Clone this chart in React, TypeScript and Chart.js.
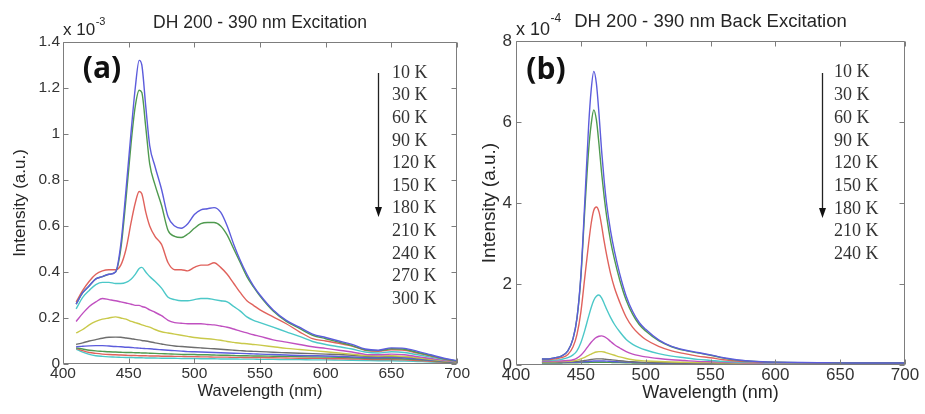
import React, { useEffect, useRef } from "react";
import { Chart, registerables } from "chart.js";

Chart.register(...registerables);

// ---------- Panel (a): DH 200 - 390 nm Excitation (x 10^-3) ----------
const wavelengthsA = [410, 415, 420, 425, 430, 435, 440, 444, 448, 452, 455, 458, 460, 463, 466, 470, 475, 480, 485, 490, 495, 500, 505, 510, 515, 520, 525, 530, 535, 540, 545, 550, 560, 570, 580, 590, 600, 610, 620, 630, 640, 650, 660, 670, 680, 690, 700];
const a10K = [0.26, 0.31, 0.34, 0.37, 0.38, 0.39, 0.40, 0.52, 0.76, 1.02, 1.20, 1.32, 1.30, 1.12, 0.95, 0.86, 0.76, 0.64, 0.60, 0.59, 0.61, 0.65, 0.67, 0.675, 0.68, 0.66, 0.60, 0.52, 0.45, 0.39, 0.34, 0.30, 0.235, 0.19, 0.16, 0.13, 0.115, 0.10, 0.085, 0.065, 0.06, 0.07, 0.068, 0.055, 0.04, 0.025, 0.015];
const a30K = [0.26, 0.31, 0.34, 0.37, 0.38, 0.39, 0.40, 0.50, 0.72, 0.97, 1.12, 1.19, 1.18, 1.03, 0.87, 0.78, 0.69, 0.58, 0.555, 0.55, 0.565, 0.59, 0.61, 0.615, 0.615, 0.60, 0.56, 0.50, 0.44, 0.38, 0.335, 0.295, 0.23, 0.185, 0.155, 0.125, 0.11, 0.095, 0.08, 0.062, 0.058, 0.066, 0.064, 0.05, 0.037, 0.023, 0.013];
const a60K = [0.27, 0.32, 0.36, 0.39, 0.405, 0.41, 0.41, 0.43, 0.50, 0.62, 0.70, 0.75, 0.74, 0.66, 0.60, 0.555, 0.52, 0.44, 0.41, 0.41, 0.405, 0.42, 0.43, 0.43, 0.44, 0.42, 0.39, 0.35, 0.31, 0.275, 0.255, 0.235, 0.205, 0.175, 0.14, 0.11, 0.10, 0.09, 0.078, 0.06, 0.055, 0.062, 0.06, 0.047, 0.035, 0.021, 0.012];
const a90K = [0.24, 0.29, 0.32, 0.345, 0.355, 0.355, 0.35, 0.35, 0.355, 0.37, 0.39, 0.415, 0.42, 0.40, 0.38, 0.36, 0.33, 0.29, 0.28, 0.275, 0.275, 0.28, 0.285, 0.285, 0.28, 0.275, 0.27, 0.25, 0.23, 0.205, 0.19, 0.18, 0.16, 0.14, 0.12, 0.098, 0.085, 0.075, 0.065, 0.052, 0.048, 0.053, 0.05, 0.04, 0.03, 0.019, 0.011];
const a120K = [0.185, 0.22, 0.25, 0.27, 0.285, 0.28, 0.275, 0.27, 0.265, 0.26, 0.255, 0.255, 0.25, 0.245, 0.235, 0.225, 0.21, 0.19, 0.18, 0.177, 0.175, 0.175, 0.175, 0.172, 0.17, 0.165, 0.16, 0.152, 0.143, 0.135, 0.127, 0.12, 0.105, 0.095, 0.085, 0.075, 0.068, 0.06, 0.052, 0.042, 0.04, 0.043, 0.04, 0.032, 0.024, 0.016, 0.01];
const a150K = [0.135, 0.15, 0.17, 0.185, 0.195, 0.2, 0.205, 0.2, 0.195, 0.185, 0.18, 0.175, 0.17, 0.165, 0.16, 0.15, 0.14, 0.135, 0.13, 0.125, 0.12, 0.115, 0.112, 0.11, 0.107, 0.103, 0.098, 0.094, 0.09, 0.088, 0.085, 0.082, 0.075, 0.068, 0.063, 0.058, 0.053, 0.048, 0.043, 0.037, 0.035, 0.036, 0.033, 0.027, 0.02, 0.014, 0.009];
const a180K = [0.085, 0.092, 0.1, 0.106, 0.112, 0.116, 0.117, 0.116, 0.113, 0.11, 0.107, 0.105, 0.102, 0.1, 0.097, 0.092, 0.087, 0.082, 0.078, 0.076, 0.074, 0.072, 0.07, 0.068, 0.066, 0.064, 0.062, 0.06, 0.058, 0.056, 0.055, 0.054, 0.051, 0.049, 0.047, 0.045, 0.043, 0.041, 0.038, 0.034, 0.032, 0.033, 0.031, 0.026, 0.02, 0.014, 0.008];
const a210K = [0.075, 0.077, 0.079, 0.08, 0.08, 0.078, 0.076, 0.075, 0.073, 0.072, 0.07, 0.069, 0.068, 0.067, 0.066, 0.064, 0.062, 0.06, 0.058, 0.056, 0.054, 0.053, 0.052, 0.051, 0.05, 0.049, 0.048, 0.047, 0.046, 0.045, 0.044, 0.043, 0.041, 0.039, 0.037, 0.036, 0.035, 0.033, 0.031, 0.028, 0.027, 0.028, 0.026, 0.022, 0.017, 0.012, 0.007];
const a240K = [0.07, 0.065, 0.06, 0.057, 0.055, 0.053, 0.052, 0.051, 0.05, 0.05, 0.049, 0.049, 0.048, 0.048, 0.047, 0.046, 0.045, 0.044, 0.043, 0.042, 0.041, 0.041, 0.04, 0.04, 0.039, 0.038, 0.038, 0.037, 0.036, 0.036, 0.035, 0.035, 0.034, 0.033, 0.032, 0.031, 0.03, 0.029, 0.027, 0.025, 0.024, 0.024, 0.022, 0.019, 0.015, 0.01, 0.006];
const a270K = [0.068, 0.058, 0.05, 0.046, 0.043, 0.041, 0.04, 0.039, 0.038, 0.037, 0.037, 0.036, 0.036, 0.036, 0.035, 0.035, 0.034, 0.034, 0.033, 0.033, 0.032, 0.032, 0.031, 0.031, 0.03, 0.03, 0.03, 0.029, 0.029, 0.028, 0.028, 0.028, 0.027, 0.026, 0.025, 0.025, 0.024, 0.023, 0.022, 0.02, 0.019, 0.019, 0.018, 0.015, 0.012, 0.008, 0.005];
const a300K = [0.065, 0.052, 0.042, 0.036, 0.033, 0.031, 0.03, 0.029, 0.028, 0.028, 0.027, 0.027, 0.027, 0.026, 0.026, 0.026, 0.025, 0.025, 0.025, 0.024, 0.024, 0.024, 0.023, 0.023, 0.023, 0.022, 0.022, 0.022, 0.021, 0.021, 0.021, 0.02, 0.02, 0.019, 0.019, 0.018, 0.018, 0.017, 0.016, 0.015, 0.014, 0.014, 0.013, 0.011, 0.009, 0.006, 0.004];
const tempLabelsA = ["10 K", "30 K", "60 K", "90 K", "120 K", "150 K", "180 K", "210 K", "240 K", "270 K", "300 K"];

// ---------- Panel (b): DH 200 - 390 nm Back Excitation (x 10^-4) ----------
const wavelengthsB = [420, 425, 430, 435, 440, 444, 447, 450, 453, 456, 458, 460, 462, 464, 466, 468, 470, 473, 476, 480, 485, 490, 495, 500, 510, 520, 530, 540, 550, 560, 570, 580, 590, 600, 620, 640, 660, 680, 700];
const b10K = [0.15, 0.15, 0.18, 0.22, 0.35, 0.65, 1.15, 2.2, 4.0, 5.9, 6.8, 7.25, 6.95, 6.2, 5.3, 4.55, 3.95, 3.3, 2.8, 2.25, 1.7, 1.32, 1.05, 0.88, 0.62, 0.46, 0.37, 0.31, 0.25, 0.18, 0.13, 0.1, 0.08, 0.07, 0.06, 0.055, 0.05, 0.05, 0.05];
const b30K = [0.15, 0.15, 0.18, 0.22, 0.35, 0.65, 1.15, 2.15, 3.8, 5.3, 5.95, 6.3, 6.05, 5.45, 4.75, 4.15, 3.65, 3.05, 2.6, 2.1, 1.6, 1.25, 1.0, 0.84, 0.6, 0.45, 0.36, 0.3, 0.24, 0.17, 0.12, 0.095, 0.078, 0.068, 0.058, 0.052, 0.05, 0.048, 0.048];
const b60K = [0.13, 0.13, 0.15, 0.18, 0.26, 0.45, 0.75, 1.3, 2.15, 3.0, 3.5, 3.82, 3.9, 3.78, 3.45, 3.05, 2.7, 2.25, 1.9, 1.55, 1.18, 0.93, 0.76, 0.63, 0.46, 0.35, 0.28, 0.22, 0.18, 0.13, 0.1, 0.08, 0.068, 0.06, 0.052, 0.048, 0.045, 0.045, 0.045];
const b90K = [0.11, 0.11, 0.12, 0.14, 0.18, 0.25, 0.35, 0.55, 0.85, 1.2, 1.42, 1.6, 1.7, 1.73, 1.66, 1.52, 1.37, 1.17, 1.0, 0.82, 0.63, 0.51, 0.43, 0.37, 0.28, 0.22, 0.18, 0.14, 0.115, 0.09, 0.075, 0.065, 0.058, 0.052, 0.048, 0.045, 0.043, 0.043, 0.043];
const b120K = [0.09, 0.09, 0.1, 0.1, 0.11, 0.13, 0.17, 0.24, 0.35, 0.48, 0.56, 0.63, 0.68, 0.71, 0.72, 0.7, 0.66, 0.58, 0.5, 0.42, 0.33, 0.27, 0.23, 0.2, 0.16, 0.13, 0.11, 0.09, 0.08, 0.07, 0.06, 0.055, 0.05, 0.048, 0.045, 0.043, 0.042, 0.042, 0.042];
const b150K = [0.08, 0.08, 0.08, 0.085, 0.09, 0.1, 0.12, 0.15, 0.19, 0.24, 0.27, 0.3, 0.32, 0.33, 0.33, 0.32, 0.3, 0.27, 0.24, 0.2, 0.16, 0.13, 0.11, 0.1, 0.085, 0.075, 0.068, 0.062, 0.058, 0.054, 0.05, 0.048, 0.046, 0.045, 0.043, 0.042, 0.041, 0.041, 0.041];
const b180K = [0.07, 0.07, 0.07, 0.075, 0.08, 0.085, 0.09, 0.1, 0.11, 0.125, 0.135, 0.145, 0.15, 0.152, 0.15, 0.145, 0.14, 0.13, 0.12, 0.105, 0.09, 0.08, 0.072, 0.066, 0.058, 0.053, 0.05, 0.047, 0.045, 0.043, 0.042, 0.041, 0.04, 0.04, 0.039, 0.039, 0.038, 0.038, 0.038];
const b210K = [0.06, 0.06, 0.06, 0.062, 0.065, 0.068, 0.07, 0.075, 0.08, 0.088, 0.093, 0.097, 0.1, 0.1, 0.1, 0.098, 0.095, 0.09, 0.085, 0.078, 0.07, 0.064, 0.06, 0.056, 0.05, 0.047, 0.045, 0.043, 0.042, 0.041, 0.04, 0.039, 0.038, 0.038, 0.037, 0.037, 0.036, 0.036, 0.036];
const b240K = [0.05, 0.05, 0.05, 0.051, 0.052, 0.054, 0.056, 0.058, 0.06, 0.063, 0.065, 0.067, 0.068, 0.068, 0.068, 0.067, 0.066, 0.064, 0.062, 0.058, 0.054, 0.051, 0.048, 0.046, 0.043, 0.041, 0.04, 0.039, 0.038, 0.037, 0.036, 0.036, 0.035, 0.035, 0.035, 0.034, 0.034, 0.034, 0.034];
const tempLabelsB = ["10 K", "30 K", "60 K", "90 K", "120 K", "150 K", "180 K", "210 K", "240 K"];

// MATLAB-like colour cycle (b, g, r, c, m, y, k), softened as in the scan
const lineColors = ["#5c5cdc", "#4f9a4f", "#e0625c", "#4cc8c8", "#c050c0", "#c9c94a", "#6e6e6e"];

const SANS = '"Liberation Sans", Arial, sans-serif';
const SERIF = '"Liberation Serif", "Times New Roman", serif';
const TEXT = "#262626";

type Decor = {
  title: string;
  titleSize: number;
  titleDy: number;
  expText: string;
  expSup: string;
  expSize: number;
  supSize: number;
  expBaseDy: number;
  supBaseDy: number;
  panel: string;
  panelDx: number;
  panelDy: number;
  legend: string[];
  legendDx: number;
  legendDy: number;
  legendStep: number;
  arrowDx: number;
  arrowTop: number;
  arrowBottom: number;
};

function decorPlugin(d: Decor) {
  return {
    id: "panelDecor",
    afterDraw(chart: any) {
      const { ctx, chartArea: ca } = chart;
      const xs = chart.scales.x;
      const ys = chart.scales.y;
      ctx.save();
      const L = Math.round(ca.left) + 0.5;
      const R = Math.round(ca.right) - 0.5;
      const T = Math.round(ca.top) + 0.5;
      const B = Math.round(ca.bottom) - 0.5;
      ctx.strokeStyle = "#7d7d7d";
      ctx.lineWidth = 1;
      ctx.beginPath();
      ctx.rect(L, T, R - L, B - T);
      const tl = 5;
      xs.ticks.forEach((t: any) => {
        const px = Math.round(xs.getPixelForValue(t.value)) + 0.5;
        ctx.moveTo(px, B);
        ctx.lineTo(px, B - tl);
        ctx.moveTo(px, T);
        ctx.lineTo(px, T + tl);
      });
      ys.ticks.forEach((t: any) => {
        const py = Math.round(ys.getPixelForValue(t.value)) + 0.5;
        ctx.moveTo(L, py);
        ctx.lineTo(L + tl, py);
        ctx.moveTo(R, py);
        ctx.lineTo(R - tl, py);
      });
      ctx.stroke();

      ctx.fillStyle = TEXT;
      ctx.textAlign = "center";
      ctx.textBaseline = "alphabetic";
      ctx.font = `${d.titleSize}px ${SANS}`;
      ctx.fillText(d.title, (ca.left + ca.right) / 2, ca.top + d.titleDy);

      ctx.textAlign = "left";
      ctx.font = `${d.expSize}px ${SANS}`;
      ctx.fillText(d.expText, ca.left, ca.top + d.expBaseDy);
      const w = ctx.measureText(d.expText).width;
      ctx.font = `${d.supSize}px ${SANS}`;
      ctx.fillText(d.expSup, ca.left + w + 0.5, ca.top + d.supBaseDy);

      ctx.fillStyle = "#111";
      ctx.textAlign = "center";
      ctx.textBaseline = "middle";
      ctx.font = `bold 30px "Open Sans", "DejaVu Sans", sans-serif`;
      ctx.fillText(d.panel, ca.left + d.panelDx, ca.top + d.panelDy);

      ctx.fillStyle = "#333";
      ctx.textAlign = "left";
      ctx.font = `18px ${SERIF}`;
      d.legend.forEach((s, i) => {
        ctx.fillText(s, ca.left + d.legendDx, ca.top + d.legendDy + i * d.legendStep);
      });

      const ax = Math.round(ca.left + d.arrowDx) + 0.5;
      const y0 = ca.top + d.arrowTop;
      const y1 = ca.top + d.arrowBottom;
      ctx.strokeStyle = "#222";
      ctx.lineWidth = 1.3;
      ctx.beginPath();
      ctx.moveTo(ax, y0);
      ctx.lineTo(ax, y1 - 8);
      ctx.stroke();
      ctx.fillStyle = "#111";
      ctx.beginPath();
      ctx.moveTo(ax - 3.5, y1 - 10);
      ctx.lineTo(ax + 3.5, y1 - 10);
      ctx.lineTo(ax, y1);
      ctx.closePath();
      ctx.fill();
      ctx.restore();
    },
  };
}

function buildDatasets(xs: number[], series: number[][], labels: string[]) {
  return series.map((s, i) => ({
    label: labels[i],
    data: xs.map((x, j) => ({ x, y: s[j] })),
    borderColor: lineColors[i % lineColors.length],
    borderWidth: 1.4,
    pointRadius: 0,
    fill: false,
    cubicInterpolationMode: "monotone" as const,
  }));
}

function makeConfig(opts: {
  datasets: any[];
  yMax: number;
  yStep: number;
  tickSize: number;
  xTickPad: number;
  yTickPad: number;
  yTitleSize: number;
  yTitlePad: number;
  xTitleSize: number;
  xTitlePad: number;
  yWidth: number;
  xHeight: number;
  padTop: number;
  padRight: number;
  decor: Decor;
}) {
  return {
    type: "line" as const,
    data: { datasets: opts.datasets },
    options: {
      responsive: false,
      animation: false as const,
      devicePixelRatio: 1,
      layout: { padding: { left: 0, right: opts.padRight, top: opts.padTop, bottom: 0 } },
      plugins: { legend: { display: false }, tooltip: { enabled: false }, title: { display: false } },
      scales: {
        x: {
          type: "linear" as const,
          min: 400,
          max: 700,
          ticks: {
            stepSize: 50,
            autoSkip: false,
            maxRotation: 0,
            padding: opts.xTickPad,
            color: "#333",
            font: { family: SANS, size: opts.tickSize },
            callback: (v: any) => String(v),
          },
          grid: { display: false, drawTicks: false },
          border: { display: false },
          title: {
            display: true,
            text: "Wavelength (nm)",
            color: TEXT,
            font: { family: SANS, size: opts.xTitleSize },
            padding: { top: 0, bottom: opts.xTitlePad },
          },
          afterFit: (s: any) => {
            s.height = opts.xHeight;
          },
        },
        y: {
          type: "linear" as const,
          min: 0,
          max: opts.yMax,
          ticks: {
            stepSize: opts.yStep,
            padding: opts.yTickPad,
            color: "#333",
            font: { family: SANS, size: opts.tickSize },
            callback: (v: any) => String(Number(Number(v).toFixed(1))),
          },
          grid: { display: false, drawTicks: false },
          border: { display: false },
          title: {
            display: true,
            text: "Intensity (a.u.)",
            color: TEXT,
            font: { family: SANS, size: opts.yTitleSize },
            padding: { top: opts.yTitlePad, bottom: 0 },
          },
          afterFit: (s: any) => {
            s.width = opts.yWidth;
          },
        },
      },
    },
    plugins: [decorPlugin(opts.decor)],
  };
}

export default function App() {
  const refA = useRef<HTMLCanvasElement | null>(null);
  const refB = useRef<HTMLCanvasElement | null>(null);

  useEffect(() => {
    const chartA = new Chart(
      refA.current as HTMLCanvasElement,
      makeConfig({
        datasets: buildDatasets(
          wavelengthsA,
          [a10K, a30K, a60K, a90K, a120K, a150K, a180K, a210K, a240K, a270K, a300K],
          tempLabelsA
        ),
        yMax: 1.4,
        yStep: 0.2,
        tickSize: 15.5,
        xTickPad: 0,
        yTickPad: 3,
        yTitleSize: 17,
        yTitlePad: 9.8,
        xTitleSize: 16.5,
        xTitlePad: 13,
        yWidth: 63,
        xHeight: 50,
        padTop: 42,
        padRight: 12,
        decor: {
          title: "DH 200 - 390 nm Excitation",
          titleSize: 17.5,
          titleDy: -14,
          expText: "x 10",
          expSup: "-3",
          expSize: 17,
          supSize: 11,
          expBaseDy: -7,
          supBaseDy: -17,
          panel: "(a)",
          panelDx: 39,
          panelDy: 27,
          legend: tempLabelsA,
          legendDx: 329,
          legendDy: 31,
          legendStep: 22.6,
          arrowDx: 314.7,
          arrowTop: 31,
          arrowBottom: 175,
        },
      }) as any
    );
    const chartB = new Chart(
      refB.current as HTMLCanvasElement,
      makeConfig({
        datasets: buildDatasets(
          wavelengthsB,
          [b10K, b30K, b60K, b90K, b120K, b150K, b180K, b210K, b240K],
          tempLabelsB
        ),
        yMax: 8,
        yStep: 2,
        tickSize: 17,
        xTickPad: 0,
        yTickPad: 4,
        yTitleSize: 19,
        yTitlePad: 8.1,
        xTitleSize: 18,
        xTitlePad: 10,
        yWidth: 46,
        xHeight: 49,
        padTop: 41,
        padRight: 20,
        decor: {
          title: "DH 200 - 390 nm Back Excitation",
          titleSize: 18.5,
          titleDy: -14,
          expText: "x 10",
          expSup: "-4",
          expSize: 18,
          supSize: 12,
          expBaseDy: -6,
          supBaseDy: -19,
          panel: "(b)",
          panelDx: 30,
          panelDy: 29,
          legend: tempLabelsB,
          legendDx: 318,
          legendDy: 31.7,
          legendStep: 22.7,
          arrowDx: 305.7,
          arrowTop: 32,
          arrowBottom: 177,
        },
      }) as any
    );
    return () => {
      chartA.destroy();
      chartB.destroy();
    };
  }, []);

  return (
    <div style={{ position: "absolute", left: 0, top: 0, width: 925, height: 414, background: "#fff" }}>
      <canvas ref={refA} width={470} height={414} style={{ position: "absolute", left: 0, top: 0 }} />
      <canvas ref={refB} width={455} height={414} style={{ position: "absolute", left: 470, top: 0 }} />
    </div>
  );
}
